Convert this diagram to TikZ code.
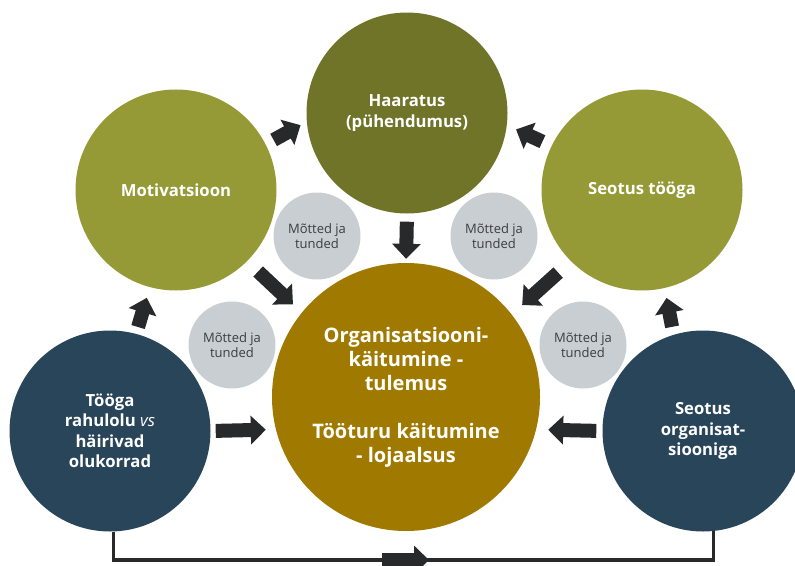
\documentclass[tikz,border=0pt]{standalone}
\usepackage{fontspec}
\setmainfont{Open Sans}
\usetikzlibrary{arrows.meta,calc}
\definecolor{olive}{HTML}{969A36}
\definecolor{darkolive}{HTML}{707429}
\definecolor{gold}{HTML}{A07A00}
\definecolor{navy}{HTML}{29455A}
\definecolor{greyc}{HTML}{C9CED3}
\definecolor{arrowc}{HTML}{27292B}
\definecolor{greytext}{HTML}{3A3E42}
\tikzset{
  bigc/.style={circle, minimum size=201pt, inner sep=0pt, text=white, align=center,
    font=\bfseries\fontsize{16.7}{20.5}\selectfont},
  centerc/.style={circle, minimum size=268pt, inner sep=0pt, text=white, align=center, fill=gold,
    font=\bfseries\fontsize{20}{24}\selectfont},
  thoughtc/.style={circle, minimum size=87pt, inner sep=0pt, fill=greyc, text=greytext, align=center,
    font=\fontsize{13}{15}\selectfont},
  barrow/.style={draw=arrowc, line width=14pt, -{Triangle[width=28pt,length=15pt]}},
  conn/.style={draw=arrowc, line width=3.5pt},
}
\begin{document}
\begin{tikzpicture}[x=1pt,y=-1pt]
\useasboundingbox (0,0) rectangle (795,565);
\clip (0,0) rectangle (795,565);
% circles
\node[bigc, fill=darkolive] (haar) at (407,113) {Haaratus\\(pühendumus)};
\node[bigc, fill=olive] (mot) at (176,190) {Motivatsioon};
\node[bigc, fill=olive] (seo) at (642,190) {Seotus tööga};
\node[centerc] (ctr) at (406,397) {Organisatsiooni-\\käitumine -\\tulemus\\[24pt]Tööturu käitumine\\- lojaalsus};
\node[bigc, fill=navy] (bl) at (110,431) {Tööga\\rahulolu {\mdseries\itshape vs}\\häirivad\\olukorrad};
\node[bigc, fill=navy] (br) at (703,431) {Seotus\\organisat-\\siooniga};
% thought bubbles
\node[thoughtc] (t1) at (317,236) {Mõtted ja\\tunded};
\node[thoughtc] (t2) at (494,236) {Mõtted ja\\tunded};
\node[thoughtc] (t3) at (232,345) {Mõtted ja\\tunded};
\node[thoughtc] (t4) at (583,345) {Mõtted ja\\tunded};
% block arrows
\draw[barrow, shorten <=9pt, shorten >=7pt] (mot.27) -- (haar.185);
\draw[barrow, shorten <=10pt, shorten >=10pt] (seo.154) -- (haar.-7);
\draw[barrow, shorten <=8pt, shorten >=4pt] (haar.south) -- (ctr.north);
\draw[barrow, shorten <=15pt, shorten >=12pt] (mot.-45) -- (ctr.141);
\draw[barrow, shorten <=17pt, shorten >=14pt] (seo.225) -- (ctr.38);
\draw[barrow, shorten <=7pt, shorten >=11pt] (bl.75) -- (mot.255);
\draw[barrow, shorten <=8pt, shorten >=10pt] (br.107) -- (seo.-77);
\draw[barrow, shorten <=5pt, shorten >=10pt] (bl.0) -- (ctr.194);
\draw[barrow, shorten <=6pt, shorten >=12pt] (br.180) -- (ctr.-14);
% bottom connector
\coordinate (bot) at (0,560);
\draw[conn] (bl.-88) -- (bl.-88 |- bot) -| (br.-84);
\coordinate (m1) at (382,560);
\coordinate (m2) at (429,560);
\draw[barrow] (m1) -- (m2);
\end{tikzpicture}
\end{document}
